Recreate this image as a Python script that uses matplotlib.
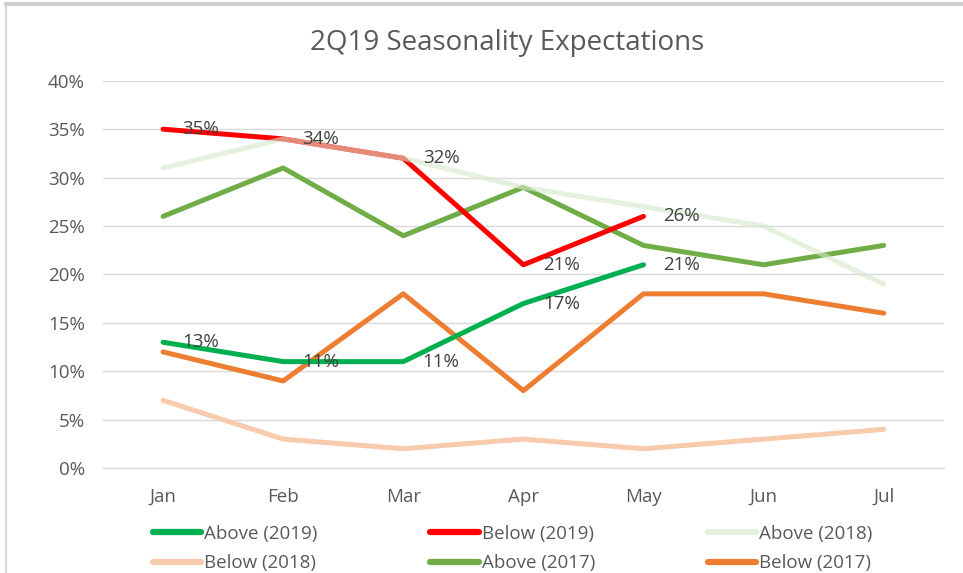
import matplotlib.pyplot as plt
from matplotlib.lines import Line2D

plt.rcParams['font.family'] = ['Open Sans', 'DejaVu Sans']

# --- data ---
months = ['Jan', 'Feb', 'Mar', 'Apr', 'May', 'Jun', 'Jul']
above_2019 = [13, 11, 11, 17, 21]
below_2019 = [35, 34, 32, 21, 26]
above_2018 = [31, 34, 32, 29, 27, 25, 19]
below_2018 = [7, 3, 2, 3, 2, 3, 4]
above_2017 = [26, 31, 24, 29, 23, 21, 23]
below_2017 = [12, 9, 18, 8, 18, 18, 16]

grey = '#595959'
fs = 13.5

fig = plt.figure(figsize=(9.63, 5.73), dpi=100)
ax = fig.add_axes([0.107, 0.183, 0.873, 0.676])

x = list(range(len(months)))
lw = 3.6

ax.plot(x[:5], above_2019, color='#00B050', lw=lw, solid_capstyle='round', label='Above (2019)', zorder=3)
ax.plot(x[:5], below_2019, color='#FF0000', lw=lw, solid_capstyle='round', label='Below (2019)', zorder=3)
ax.plot(x, above_2018, color='#D5E8CB', lw=lw, alpha=0.6, solid_capstyle='round', label='Above (2018)', zorder=4)
ax.plot(x, below_2018, color='#F8CBAD', lw=lw, solid_capstyle='round', label='Below (2018)', zorder=2)
ax.plot(x, above_2017, color='#70AD47', lw=lw, solid_capstyle='round', label='Above (2017)', zorder=2)
ax.plot(x, below_2017, color='#ED7D31', lw=lw, solid_capstyle='round', label='Below (2017)', zorder=2)

# data labels for the 2019 series, to the right of each point
for series in (above_2019, below_2019):
    for i, v in enumerate(series):
        ax.annotate(f'{v}%', (i, v), xytext=(14, 0), textcoords='offset points',
                    ha='left', va='center', fontsize=fs, color='#404040', zorder=5)

ax.set_xlim(-0.5, 6.5)
ax.set_ylim(0, 40)
ax.set_yticks(range(0, 41, 5))
ax.set_yticklabels([f'{t}%' for t in range(0, 41, 5)])
ax.set_xticks(x)
ax.set_xticklabels(months)
ax.tick_params(length=0, labelsize=fs, colors=grey)
ax.tick_params(axis='x', pad=14)
ax.tick_params(axis='y', pad=13)
ax.grid(axis='y', color='#D9D9D9', lw=1)
ax.set_axisbelow(True)
for s in ['top', 'right', 'left']:
    ax.spines[s].set_visible(False)
ax.spines['bottom'].set_color('#D9D9D9')

fig.text(0.527, 0.925, '2Q19 Seasonality Expectations', fontsize=20, color=grey,
         ha='center', va='center')

# legend laid out row by row like the reference
h, l = ax.get_legend_handles_labels()
order = [0, 3, 1, 4, 2, 5]
handles = [Line2D([0], [0], color=h[i].get_color(), lw=4.5, alpha=h[i].get_alpha(), solid_capstyle='round') for i in order]
fig.legend(handles, [l[i] for i in order], ncol=3, loc='lower left',
           bbox_to_anchor=(0.141, -0.028), frameon=False, fontsize=fs,
           labelcolor=grey, handlelength=2.6, handletextpad=0.15,
           columnspacing=6.0, labelspacing=0.62)

# chart border remnants (left and top edges of the screenshot)
fig.add_artist(Line2D([0.006, 0.006], [0, 0.99], transform=fig.transFigure, color='#D9D9D9', lw=1.5))
fig.add_artist(Line2D([0.006, 1], [0.993, 0.993], transform=fig.transFigure, color='#D0D0D0', lw=3))

fig.savefig('out.png', dpi=100)
